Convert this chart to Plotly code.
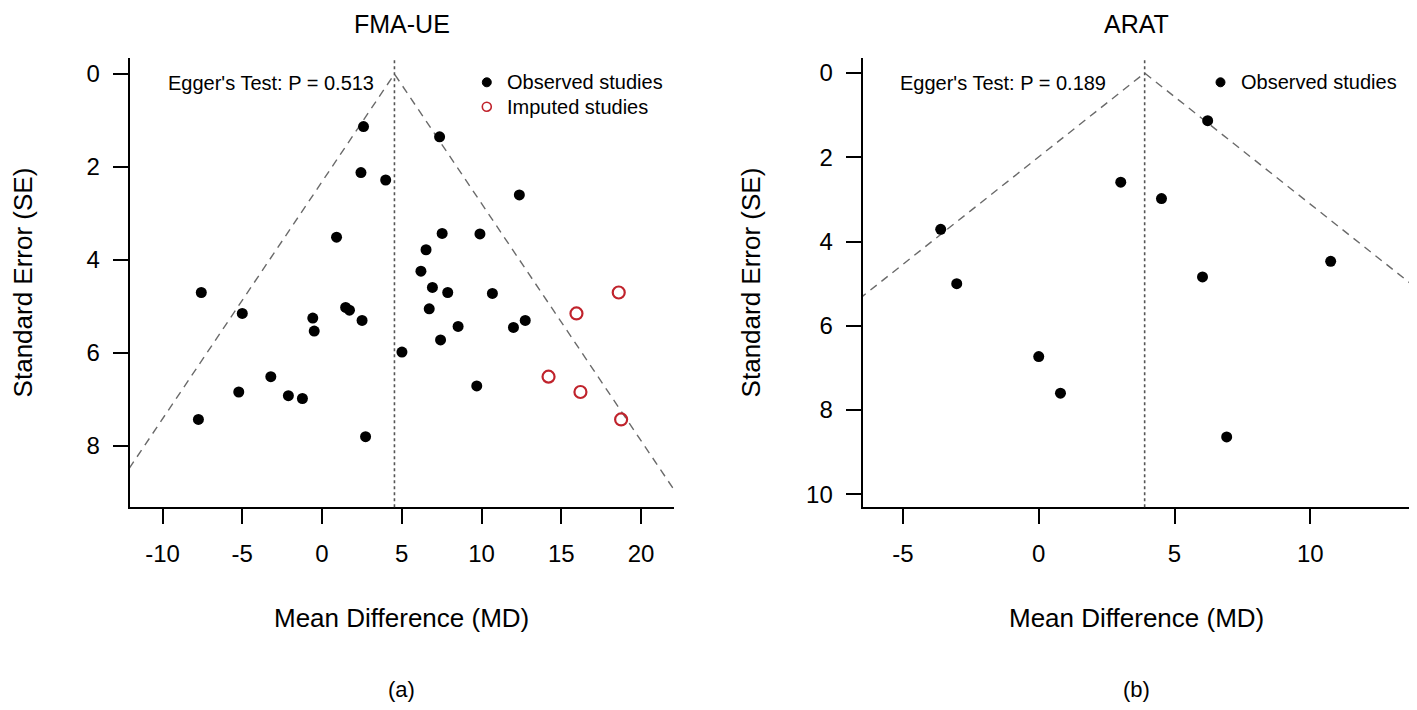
import plotly.graph_objects as go

# FMA-UE observed studies (mean difference, standard error)
fma_md = [2.60, 7.37, 2.44, 3.99, 12.37, 0.91, 7.53, 9.90, 6.52, 6.20, -7.57, 6.92, 7.88, 10.68,
          -5.00, -0.58, 1.48, 1.72, 2.51, 6.72, 12.74, 12.00, 8.53, -0.49, 7.43, 5.01, -3.21,
          9.70, -5.22, -2.11, -1.23, -7.75, 2.73]
fma_se = [1.13, 1.35, 2.12, 2.28, 2.60, 3.51, 3.43, 3.44, 3.78, 4.24, 4.70, 4.59, 4.70, 4.72,
          5.15, 5.25, 5.02, 5.08, 5.30, 5.05, 5.30, 5.45, 5.43, 5.53, 5.72, 5.98, 6.51,
          6.71, 6.84, 6.92, 6.98, 7.43, 7.80]
# FMA-UE imputed studies (trim and fill)
imp_md = [18.60, 15.95, 14.20, 16.20, 18.75]
imp_se = [4.70, 5.15, 6.51, 6.84, 7.43]
fma_center = 4.54
fma_p = "0.513"

# ARAT observed studies
arat_md = [6.22, 3.02, 4.52, -3.61, 10.75, 6.03, -3.02, 0.00, 0.80, 6.92]
arat_se = [1.13, 2.59, 2.98, 3.71, 4.47, 4.84, 5.00, 6.73, 7.60, 8.64]
arat_center = 3.90
arat_p = "0.189"

fma_xticks = [-10, -5, 0, 5, 10, 15, 20]
fma_yticks = [0, 2, 4, 6, 8]
arat_xticks = [-5, 0, 5, 10]
arat_yticks = [0, 2, 4, 6, 8, 10]

# the page body has an 8px margin, so the figure is drawn a bit smaller and shifted
PAGE_OFF = 8
W, H = 1417 - PAGE_OFF, 710 - PAGE_OFF
FONT = "Liberation Sans, Arial, sans-serif"
RED = "#C0232C"
z = 1.96


def px(p):
    return (p - PAGE_OFF) / W


def py(p):
    return 1 - (p - PAGE_OFF) / H


def labels(vals):
    return [str(v) for v in vals]  # plain hyphen minus like R


fig = go.Figure()


def funnel(center, se_max, xa, ya):
    se_far = se_max * 1.5
    fig.add_trace(go.Scatter(
        x=[center - z * se_far, center, center + z * se_far], y=[se_far, 0, se_far],
        mode="lines", line=dict(color="#6a6a6a", width=1.4, dash="8px,6px"),
        xaxis=xa, yaxis=ya, hoverinfo="skip", showlegend=False))
    fig.add_shape(type="line", xref=xa, yref=ya + " domain",
                  x0=center, x1=center, y0=0, y1=1,
                  line=dict(color="#555555", width=1.6, dash="dot"))


funnel(fma_center, 9.32, "x", "y")
funnel(arat_center, 10.31, "x2", "y2")

dot = dict(color="black", size=11, symbol="circle")
fig.add_trace(go.Scatter(x=fma_md, y=fma_se, mode="markers", marker=dot,
                         xaxis="x", yaxis="y", showlegend=False))
fig.add_trace(go.Scatter(x=imp_md, y=imp_se, mode="markers",
                         marker=dict(color="rgba(255,255,255,0)", size=12, symbol="circle",
                                     line=dict(color=RED, width=2.2)),
                         xaxis="x", yaxis="y", showlegend=False))
fig.add_trace(go.Scatter(x=arat_md, y=arat_se, mode="markers", marker=dot,
                         xaxis="x2", yaxis="y2", showlegend=False))

ax_common = dict(showline=True, linecolor="black", linewidth=1.8, ticks="outside",
                 ticklen=15, tickwidth=1.6, tickcolor="black", showgrid=False,
                 zeroline=False, tickfont=dict(family=FONT, size=24, color="black"))

fig.update_layout(
    width=W, height=H,
    margin=dict(l=0, r=0, t=0, b=0),
    paper_bgcolor="white", plot_bgcolor="white",
    showlegend=False,
    font=dict(family=FONT, color="black"),
    xaxis=dict(domain=[px(129.5), px(673.6)], range=[-12.07, 22.04], tickvals=fma_xticks,
               ticktext=labels(fma_xticks), anchor="y", ticklabelstandoff=9, **ax_common),
    yaxis=dict(domain=[py(507.3), py(57.5)], range=[9.32, -0.355], tickvals=fma_yticks,
               ticktext=labels(fma_yticks), anchor="x", ticklabelstandoff=8, **ax_common),
    xaxis2=dict(domain=[px(862.5), px(1409.7)], range=[-6.49, 13.66], tickvals=arat_xticks,
                ticktext=labels(arat_xticks), anchor="y2", ticklabelstandoff=9, **ax_common),
    yaxis2=dict(domain=[py(507.3), py(57.5)], range=[10.31, -0.37], tickvals=arat_yticks,
                ticktext=labels(arat_yticks), anchor="x2", ticklabelstandoff=8, **ax_common),
)


def note(text, x, y, size, xanchor="center", angle=0, color="black"):
    fig.add_annotation(text=text, xref="paper", yref="paper", x=px(x), y=py(y),
                       xanchor=xanchor, yanchor="middle", showarrow=False, textangle=angle,
                       borderpad=0, font=dict(family=FONT, size=size, color=color))


# panel titles, axis titles, panel letters
note("FMA-UE", 401.5, 24, 25)
note("ARAT", 1136, 24, 25)
note("Mean Difference (MD)", 401.5, 618, 26)
note("Mean Difference (MD)", 1136, 618, 26)
note("Standard Error (SE)", 23, 282.4, 26, angle=-90)
note("Standard Error (SE)", 751, 282.4, 26, angle=-90)
note("(a)", 401, 689, 22)
note("(b)", 1136, 689, 22)

# Egger's test text
note("Egger's Test: P = " + fma_p, 166.7, 83, 20, xanchor="left")
note("Egger's Test: P = " + arat_p, 899.3, 83, 20, xanchor="left")


# legends
def legend_mark(x, y, filled):
    fig.add_shape(type="circle", xref="paper", yref="paper", xsizemode="pixel", ysizemode="pixel",
                  xanchor=px(x), yanchor=py(y), x0=-4.5, x1=4.5, y0=-4.5, y1=4.5,
                  fillcolor="black" if filled else "rgba(0,0,0,0)",
                  line=dict(color="black" if filled else RED, width=1 if filled else 1.6))


legend_mark(486.8, 82.3, True)
note("Observed studies", 505.7, 82.3, 20, xanchor="left")
legend_mark(486.8, 106.7, False)
note("Imputed studies", 505.7, 106.7, 20, xanchor="left")
legend_mark(1220.5, 82.3, True)
note("Observed studies", 1240.3, 82.3, 20, xanchor="left")

fig.write_html("out.html")
